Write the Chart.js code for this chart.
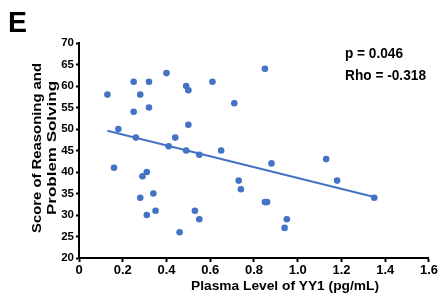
<!DOCTYPE html>
<html>
<head>
<meta charset="utf-8">
<script src="https://cdn.jsdelivr.net/npm/chart.js@4"></script>
<style>
  html, body { margin: 0; padding: 0; background: #fff; }
  #wrap { width: 439px; height: 300px; position: relative; }
</style>
</head>
<body>
<div id="wrap"><canvas id="chart"></canvas></div>
<script>
// plasma YY1 level (pg/mL) vs reasoning / problem solving score
const yy1Level = [
  0.13, 0.18, 0.25, 0.32, 0.28, 0.25, 0.32, 0.40, 0.49, 0.50,
  0.50, 0.26, 0.44, 0.41, 0.49, 0.16, 0.31, 0.29, 0.34, 0.28,
  0.35, 0.31, 0.46, 0.53, 0.55, 0.55, 0.61, 0.85, 0.71, 0.65,
  0.88, 1.13, 0.73, 0.74, 0.85, 0.86, 0.95, 0.94, 1.18, 1.35
];
const reasoningScore = [
  58, 50, 61, 61, 58, 54, 55, 63, 60, 59,
  51, 48, 48, 46, 45, 41, 40, 39, 35, 34,
  31, 30, 26, 31, 29, 44, 61, 64, 56, 45,
  42, 43, 38, 36, 33, 33, 29, 27, 38, 34
];
// fitted line end points
const fitX = [0.13, 1.35];
const fitY = [49.6, 34.2];

const xTicks = [0, 0.2, 0.4, 0.6, 0.8, 1.0, 1.2, 1.4, 1.6];
const statLines = ['p = 0.046', 'Rho = -0.318'];
const xTitle = 'Plasma Level of YY1 (pg/mL)';
const yTitle = ['Score of Reasoning and', 'Problem Solving'];

const blue = '#4472C4';
const FONT = '"Liberation Sans", Arial, sans-serif';

// text drawn a bit wider than the font, like the figure
function drawFit(ctx, text, x, y, width, size, align) {
  ctx.font = 'bold ' + size + 'px ' + FONT;
  const w = ctx.measureText(text).width;
  const k = width / w;
  ctx.save();
  ctx.translate(x, y);
  ctx.scale(k, 1);
  ctx.textAlign = align;
  ctx.fillText(text, 0, 0);
  ctx.restore();
}

const textPlugin = {
  id: 'texts',
  afterDraw(chart) {
    const ctx = chart.ctx;
    ctx.save();
    ctx.fillStyle = '#000';
    ctx.textBaseline = 'alphabetic';
    // panel letter
    drawFit(ctx, 'E', 8, 32, 19, 30, 'left');
    // stats
    drawFit(ctx, statLines[0], 345, 58, 58, 14.5, 'left');
    drawFit(ctx, statLines[1], 345, 80, 81, 14.5, 'left');
    // x axis title
    drawFit(ctx, xTitle, 285, 290, 188, 12, 'center');
    // y axis title, rotated
    ctx.save();
    ctx.translate(0, 148);
    ctx.rotate(-Math.PI / 2);
    ctx.textBaseline = 'middle';
    drawFit(ctx, yTitle[0], 0, 37.5, 170, 12, 'center');
    drawFit(ctx, yTitle[1], 0, 52.5, 134, 12, 'center');
    ctx.restore();
    ctx.restore();
  }
};

new Chart(document.getElementById('chart'), {
  type: 'scatter',
  data: {
    datasets: [{
      label: 'subjects',
      data: yy1Level.map((x, i) => ({ x: x, y: reasoningScore[i] })),
      backgroundColor: blue,
      borderColor: blue,
      pointRadius: 3.3,
      pointBorderWidth: 0
    }, {
      type: 'line',
      label: 'fit',
      data: fitX.map((x, i) => ({ x: x, y: fitY[i] })),
      borderColor: blue,
      borderWidth: 2,
      pointRadius: 0,
      fill: false
    }]
  },
  options: {
    responsive: true,
    maintainAspectRatio: false,
    animation: false,
    layout: { padding: { top: 43, right: 10, left: 0, bottom: 0 } },
    plugins: {
      legend: { display: false },
      tooltip: { enabled: false }
    },
    scales: {
      x: {
        type: 'linear',
        min: 0,
        max: 1.6,
        afterBuildTicks: (scale) => { scale.ticks = xTicks.map(v => ({ value: v })); },
        afterFit: (scale) => { scale.height = 42; },
        border: { color: '#000', width: 2 },
        grid: { drawOnChartArea: false, color: '#000', tickLength: 4, tickWidth: 2 },
        ticks: {
          color: '#000',
          padding: 1,
          maxRotation: 0,
          font: { family: FONT, size: 13, weight: 'bold' },
          callback: v => v === 0 ? '0' : v.toFixed(1)
        }
      },
      y: {
        min: 20,
        max: 70,
        afterFit: (scale) => { scale.width = 79; },
        border: { color: '#000', width: 2 },
        grid: { drawOnChartArea: false, color: '#000', tickLength: 3, tickWidth: 2 },
        ticks: {
          stepSize: 5,
          color: '#000',
          padding: 2,
          font: { family: FONT, size: 11.5, weight: 'bold' }
        }
      }
    }
  },
  plugins: [textPlugin]
});
</script>
</body>
</html>
